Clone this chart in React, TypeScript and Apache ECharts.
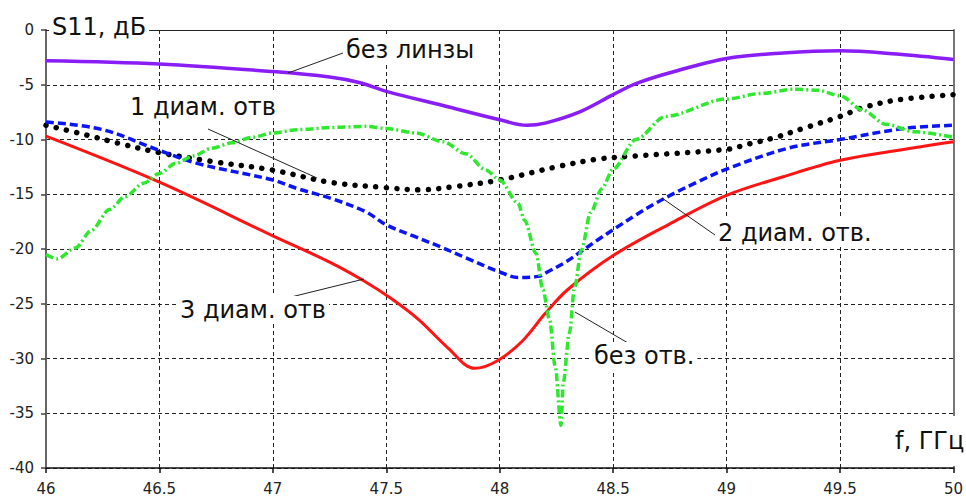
import React, { useEffect, useRef } from "react";
import * as echarts from "echarts";

// без линзы
const freqNoLens = [46.0, 46.5, 47.0, 47.25, 47.38, 47.5, 47.75, 48.0, 48.12, 48.2, 48.35, 48.5, 48.6, 48.75, 49.0, 49.25, 49.5, 49.75, 50.0];
const sNoLens = [-2.8, -3.1, -3.8, -4.3, -4.8, -5.6, -6.9, -8.2, -8.7, -8.5, -7.5, -5.9, -4.9, -3.9, -2.6, -2.1, -1.9, -2.2, -2.7];

// 1 диам. отв
const freqOne = [46.0, 46.18, 46.31, 46.5, 46.73, 47.0, 47.25, 47.5, 47.65, 47.8, 48.0, 48.25, 48.43, 48.6, 49.0, 49.1, 49.2, 49.35, 49.5, 49.6, 49.75, 50.0];
const sOne = [-8.7, -9.6, -10.3, -11.2, -12.0, -12.8, -13.9, -14.4, -14.6, -14.3, -13.7, -12.5, -11.8, -11.5, -10.9, -10.4, -9.9, -8.9, -7.9, -7.1, -6.4, -5.9];

// 2 диам. отв.
const freqTwo = [46.0, 46.25, 46.5, 46.67, 47.0, 47.11, 47.26, 47.41, 47.5, 47.63, 47.75, 47.85, 48.0, 48.08, 48.17, 48.21, 48.29, 48.36, 48.43, 48.51, 48.6, 48.68, 48.77, 48.87, 49.0, 49.27, 49.5, 49.78, 50.0];
const sTwo = [-8.4, -9.1, -11.0, -12.2, -13.7, -14.5, -15.4, -16.6, -17.8, -18.9, -19.9, -20.8, -22.1, -22.6, -22.5, -22.1, -21.2, -20.2, -19.2, -18.1, -16.9, -15.9, -14.9, -13.9, -12.7, -10.8, -10.0, -9.0, -8.7];

// 3 диам. отв
const freqThree = [46.0, 46.5, 47.0, 47.25, 47.4, 47.52, 47.64, 47.77, 47.89, 47.99, 48.1, 48.2, 48.3, 48.5, 48.75, 49.0, 49.25, 49.5, 49.75, 50.0];
const sThree = [-9.7, -13.9, -18.8, -21.2, -22.9, -24.5, -26.4, -29.0, -30.9, -30.2, -28.4, -25.9, -23.7, -20.6, -17.7, -15.1, -13.4, -11.9, -11.0, -10.2];

// без отв.
const freqNone = [46.0, 46.05, 46.13, 46.2, 46.28, 46.35, 46.43, 46.5, 46.57, 46.65, 46.73, 46.82, 46.91, 47.0, 47.11, 47.26, 47.41, 47.5, 47.63, 47.75, 47.85, 47.94, 48.0, 48.08, 48.11, 48.16, 48.19, 48.22, 48.245, 48.27, 48.28, 48.307, 48.33, 48.36, 48.4, 48.45, 48.5, 48.6, 48.73, 49.0, 49.15, 49.3, 49.4, 49.5, 49.6, 49.7, 49.83, 50.0];
const sNone = [-20.5, -20.9, -19.9, -18.3, -16.4, -15.2, -14.0, -13.1, -12.2, -11.5, -10.8, -10.3, -9.8, -9.4, -9.1, -8.9, -8.8, -9.0, -9.4, -10.2, -11.3, -12.8, -13.7, -15.8, -17.4, -20.4, -23.7, -26.5, -30.8, -36.1, -32.2, -27.7, -23.5, -20.1, -16.7, -14.5, -12.7, -10.0, -7.9, -6.3, -5.8, -5.4, -5.5, -6.0, -7.3, -8.6, -9.3, -9.8];

const xMin = 46;
const xMax = 50;
const xStep = 0.5;
const yMin = -40;
const yMax = 0;
const yStep = 5;

const FONT = "'DejaVu Sans', 'Noto Sans', sans-serif";

const zip = (f: number[], v: number[]) => f.map((x, i) => [x, v[i]]);

export default function App() {
  const ref = useRef<HTMLDivElement>(null);
  useEffect(() => {
    if (!ref.current) return;
    const chart = echarts.init(ref.current, null, { renderer: "svg" });
    const grid = "#222";
    const annText = (text: string, x: number, y: number, size = 24) => ({
      type: "text",
      z: 100,
      x,
      y,
      style: {
        text,
        font: `${size}px ${FONT}`,
        fill: "#111",
        align: "left",
        verticalAlign: "middle",
        backgroundColor: "#fff",
        padding: [2, 3, 2, 3],
      },
    });
    const lead = (x1: number, y1: number, x2: number, y2: number) => ({
      type: "line",
      z: 90,
      shape: { x1, y1, x2, y2 },
      style: { stroke: "#222", lineWidth: 1 },
    });
    chart.setOption({
      animation: false,
      backgroundColor: "#fff",
      grid: { left: 46, right: 10, top: 30, bottom: 32 },
      xAxis: [
        {
          type: "value",
          min: xMin,
          max: xMax,
          interval: xStep,
          position: "bottom",
          axisLine: { show: true, onZero: false, lineStyle: { color: "#111", width: 1.5 } },
          axisTick: { show: true, length: 5, lineStyle: { color: "#111", width: 1.5 } },
          axisLabel: { color: "#222", fontFamily: FONT, fontSize: 15, margin: 13 },
          splitLine: { show: true, lineStyle: { color: grid, width: 1, type: [4, 3] } },
        },
        {
          type: "value",
          min: xMin,
          max: xMax,
          position: "top",
          axisLine: { show: true, onZero: false, lineStyle: { color: "#222", width: 1 } },
          axisTick: { show: false },
          axisLabel: { show: false },
          splitLine: { show: false },
        },
      ],
      yAxis: [
        {
          type: "value",
          min: yMin,
          max: yMax,
          interval: yStep,
          position: "left",
          axisLine: { show: true, onZero: false, lineStyle: { color: "#666", width: 2 } },
          axisTick: { show: true, length: 5, lineStyle: { color: "#444", width: 1.5 } },
          axisLabel: { color: "#222", fontFamily: FONT, fontSize: 15, margin: 12 },
          splitLine: { show: true, lineStyle: { color: grid, width: 1, type: [4, 3] } },
        },
        {
          type: "value",
          min: yMin,
          max: yMax,
          position: "right",
          axisLine: { show: true, onZero: false, lineStyle: { color: "#777", width: 2 } },
          axisTick: { show: false },
          axisLabel: { show: false },
          splitLine: { show: false },
        },
      ],
      series: [
        {
          name: "без линзы",
          type: "line",
          data: zip(freqNoLens, sNoLens),
          smooth: 0.35,
          symbol: "none",
          lineStyle: { color: "#8a1cf5", width: 3.5 },
        },
        {
          name: "1 диам. отв",
          type: "line",
          data: zip(freqOne, sOne),
          smooth: 0.35,
          symbol: "none",
          lineStyle: { color: "#000", width: 5.5, type: [0.1, 10.4], cap: "round" },
        },
        {
          name: "2 диам. отв.",
          type: "line",
          data: zip(freqTwo, sTwo),
          smooth: 0.35,
          symbol: "none",
          lineStyle: { color: "#0a14f5", width: 3.5, type: [8, 4] },
        },
        {
          name: "3 диам. отв",
          type: "line",
          data: zip(freqThree, sThree),
          smooth: 0.35,
          symbol: "none",
          lineStyle: { color: "#ff1414", width: 3 },
        },
        {
          name: "без отв.",
          type: "line",
          data: zip(freqNone, sNone),
          smooth: 0.3,
          smoothMonotone: "x",
          symbol: "none",
          lineStyle: { color: "#2ee82e", width: 3.5, type: [8, 3, 2, 3] },
        },
      ],
      graphic: [
        lead(343, 53, 288, 73),
        lead(208, 129, 317, 178),
        lead(715, 235, 662, 198),
        lead(283, 299, 364, 279),
        lead(628, 343, 575, 312),
        annText("без линзы", 343, 50),
        annText("1 диам. отв", 127, 107),
        annText("2 диам. отв.", 715, 233),
        annText("3 диам. отв", 177, 310),
        annText("без отв.", 591, 356),
        annText("S11, дБ", 49, 27, 24),
        {
          type: "text",
          z: 100,
          x: 892,
          y: 441,
          style: {
            text: "f, ГГц",
            font: `24px ${FONT}`,
            fill: "#111",
            align: "left",
            verticalAlign: "middle",
            backgroundColor: "#fff",
            padding: [10, 10, 16, 3],
          },
        },
      ],
    });
    return () => chart.dispose();
  }, []);
  return (
    <div
      ref={ref}
      style={{ position: "absolute", left: 0, top: 0, width: 966, height: 500, background: "#fff" }}
    />
  );
}
